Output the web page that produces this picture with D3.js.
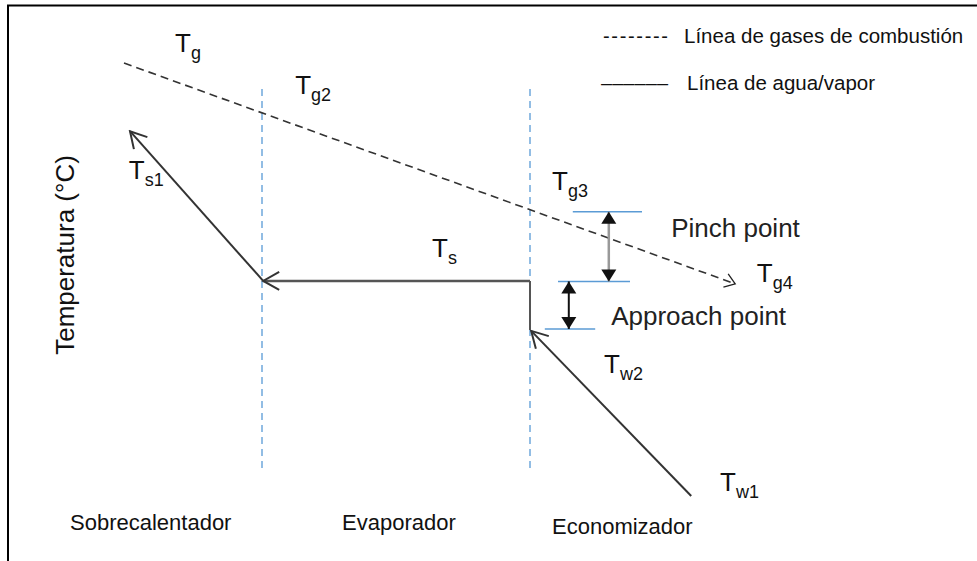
<!DOCTYPE html>
<html><head><meta charset="utf-8">
<script src="https://cdn.jsdelivr.net/npm/d3@7"></script>
<style>html,body{margin:0;padding:0;background:#fff;}svg{display:block;}</style>
</head><body>
<svg id="chart" width="977" height="561"></svg>
<script>
// ---- data (diagram units: x = position through HRSG 0..100, y = relative temperature 0..100)
const sectionNames = ["Sobrecalentador", "Evaporador", "Economizador"];
const sectionLabelX = [-3.75, 30.25, 56.5];
const sectionLabelY = [-2.1, -2.1, -2.9];
const sectionBounds = [20.25, 53.75];
const boundsYRange = [10, 89.8];
const gasLine = [{x: 3, y: 95.2}, {x: 79.4, y: 49.2}];
const economizerLine = [{x: 73.9, y: 5}, {x: 53.9, y: 39.4}];
const evapRise = [{x: 53.75, y: 39.6}, {x: 53.75, y: 49.8}];
const evapLine = [{x: 53.75, y: 49.8}, {x: 20.4, y: 49.8}];
const superLine = [{x: 20.4, y: 49.8}, {x: 3.75, y: 81.0}];
const pinchTop = 64.2, pinchBottom = 49.7, approachBottom = 39.8;
const pinchX = 63.6, approachX = 58.6;
const refLines = [
  {y: 64.2, x0: 59.1, x1: 67.75},
  {y: 49.7, x0: 57.25, x1: 66.25},
  {y: 39.8, x0: 55.6, x1: 61.9}
];
const tLabels = [
  {sub: "g",  x: 9.375, y: 97.5},
  {sub: "g2", x: 24.4,  y: 88.75},
  {sub: "s1", x: 3.6,   y: 71.0},
  {sub: "s",  x: 41.5,  y: 54.8},
  {sub: "g3", x: 56.5,  y: 68.75},
  {sub: "g4", x: 82.1,  y: 49.6},
  {sub: "w2", x: 63,    y: 30.6},
  {sub: "w1", x: 77.5,  y: 6.0}
];
const noteLabels = [
  {text: "Pinch point", x: 71.4, y: 59.0},
  {text: "Approach point", x: 63.9, y: 40.6}
];
const legendItems = [
  {sym: "--------", text: "Línea de gases de combustión"},
  {sym: "––––––", text: "Línea de agua/vapor"}
];
const yTitle = "Temperatura (°C)";

// ---- drawing
const svg = d3.select("#chart");
const FONT = "'Liberation Sans', Arial, Helvetica, sans-serif";
const x = d3.scaleLinear().domain([0, 100]).range([100, 900]);
const y = d3.scaleLinear().domain([0, 100]).range([520, 40]);
const line = d3.line().x(d => x(d.x)).y(d => y(d.y));

const defs = svg.append("defs");
function openMarker(id, len, hw, color, sw) {
  defs.append("marker").attr("id", id).attr("markerUnits", "userSpaceOnUse")
    .attr("viewBox", `${-len-2} ${-hw-2} ${len+4} ${2*hw+4}`)
    .attr("refX", 0).attr("refY", 0)
    .attr("markerWidth", len+4).attr("markerHeight", 2*hw+4)
    .attr("orient", "auto")
    .append("path").attr("d", `M${-len},${-hw}L0,0L${-len},${hw}`)
    .attr("fill", "none").attr("stroke", color).attr("stroke-width", sw);
}
function filledMarker(id, len, hw, color) {
  defs.append("marker").attr("id", id).attr("markerUnits", "userSpaceOnUse")
    .attr("viewBox", `${-len-1} ${-hw-1} ${len+2} ${2*hw+2}`)
    .attr("refX", 0).attr("refY", 0)
    .attr("markerWidth", len+2).attr("markerHeight", 2*hw+2)
    .attr("orient", "auto-start-reverse")
    .append("path").attr("d", `M${-len},${-hw}L0,0L${-len},${hw}Z`)
    .attr("fill", color);
}
openMarker("openW", 16, 9, "#333", 2);
openMarker("openG", 10, 7, "#222", 1.3);
filledMarker("tri", 12, 7.5, "#111");

// frame (top and left)
svg.append("line").attr("x1", 7).attr("x2", 977).attr("y1", 5.5).attr("y2", 5.5)
  .attr("stroke", "#000").attr("stroke-width", 2);
svg.append("line").attr("x1", 8).attr("x2", 8).attr("y1", 5).attr("y2", 561)
  .attr("stroke", "#000").attr("stroke-width", 2);

// section separators
svg.selectAll(".sep").data(sectionBounds).enter().append("line")
  .attr("x1", d => x(d)).attr("x2", d => x(d))
  .attr("y1", y(boundsYRange[1])).attr("y2", y(boundsYRange[0]))
  .attr("stroke", "#6fa8dc").attr("stroke-width", 1.5).attr("stroke-dasharray", "7,5");

// reference (blue) lines
svg.selectAll(".ref").data(refLines).enter().append("line")
  .attr("x1", d => x(d.x0)).attr("x2", d => x(d.x1))
  .attr("y1", d => y(d.y)).attr("y2", d => y(d.y))
  .attr("stroke", "#5b9bd5").attr("stroke-width", 1.5);

// gas line
svg.append("path").datum(gasLine).attr("d", line)
  .attr("fill", "none").attr("stroke", "#333").attr("stroke-width", 1.6)
  .attr("stroke-dasharray", "8,5").attr("marker-end", "url(#openG)");

// water / steam lines
svg.append("path").datum(economizerLine).attr("d", line)
  .attr("fill", "none").attr("stroke", "#333").attr("stroke-width", 2).attr("marker-end", "url(#openW)");
svg.append("path").datum(evapRise).attr("d", line)
  .attr("fill", "none").attr("stroke", "#555").attr("stroke-width", 2);
svg.append("path").datum(evapLine).attr("d", line)
  .attr("fill", "none").attr("stroke", "#555").attr("stroke-width", 2.6).attr("marker-end", "url(#openW)");
svg.append("path").datum(superLine).attr("d", line)
  .attr("fill", "none").attr("stroke", "#333").attr("stroke-width", 2).attr("marker-end", "url(#openW)");

// pinch & approach double arrows
svg.append("line").attr("x1", x(pinchX)).attr("x2", x(pinchX))
  .attr("y1", y(pinchTop)).attr("y2", y(pinchBottom))
  .attr("stroke", "#999").attr("stroke-width", 2.5)
  .attr("marker-start", "url(#tri)").attr("marker-end", "url(#tri)");
svg.append("line").attr("x1", x(approachX)).attr("x2", x(approachX))
  .attr("y1", y(pinchBottom)).attr("y2", y(approachBottom))
  .attr("stroke", "#111").attr("stroke-width", 2)
  .attr("marker-start", "url(#tri)").attr("marker-end", "url(#tri)");

// T labels
const tl = svg.selectAll(".tl").data(tLabels).enter().append("text")
  .attr("x", d => x(d.x)).attr("y", d => y(d.y))
  .attr("font-family", FONT).attr("font-size", 26).attr("fill", "#111");
tl.append("tspan").text("T");
tl.append("tspan").attr("dy", 7).attr("font-size", 18).text(d => d.sub);

// notes
svg.selectAll(".note").data(noteLabels).enter().append("text")
  .attr("x", d => x(d.x)).attr("y", d => y(d.y))
  .attr("font-family", FONT).attr("font-size", 26).attr("fill", "#222")
  .text(d => d.text);

// section labels
svg.selectAll(".sec").data(sectionNames).enter().append("text")
  .attr("x", (d, i) => x(sectionLabelX[i])).attr("y", (d, i) => y(sectionLabelY[i]))
  .attr("font-family", FONT).attr("font-size", 22).attr("fill", "#111")
  .text(d => d);

// y title
svg.append("text").attr("transform", "translate(74,255) rotate(-90)")
  .attr("text-anchor", "middle").attr("font-family", FONT).attr("font-size", 26)
  .attr("fill", "#111").text(yTitle);

// legend
const lg = svg.selectAll(".lg").data(legendItems).enter().append("g")
  .attr("transform", (d, i) => `translate(0,${i === 0 ? 43 : 90})`);
lg.append("text").attr("x", (d, i) => i === 0 ? 603 : 601).attr("y", 0)
  .attr("font-family", FONT).attr("font-size", 20).attr("fill", "#111")
  .attr("textLength", (d, i) => i === 0 ? 65 : 67).attr("lengthAdjust", "spacing")
  .text(d => d.sym);
lg.append("text").attr("x", (d, i) => i === 0 ? 684 : 687).attr("y", 0)
  .attr("font-family", FONT).attr("font-size", 20.5).attr("fill", "#111")
  .text(d => d.text);
</script>
</body></html>
